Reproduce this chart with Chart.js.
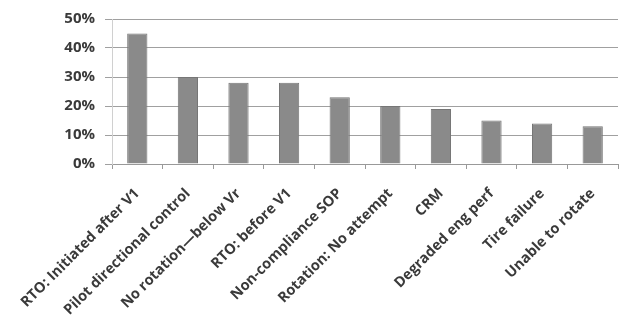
<!DOCTYPE html>
<html>
<head>
<meta charset="utf-8">
<script src="https://cdn.jsdelivr.net/npm/chart.js@4.4.0/dist/chart.umd.min.js"></script>
<style>
  html, body { margin: 0; padding: 0; background: #fff; }
  #wrap { width: 627px; height: 327px; }
</style>
</head>
<body>
<div id="wrap"><canvas id="barChart"></canvas></div>
<script>
const categories = [
  "RTO: Initiated after V1",
  "Pilot directional control",
  "No rotation\u2014below Vr",
  "RTO: before V1",
  "Non-compliance SOP",
  "Rotation: No attempt",
  "CRM",
  "Degraded eng perf",
  "Tire failure",
  "Unable to rotate"
];
const shares = [45, 30, 28, 28, 23, 20, 19, 15, 14, 13];
const yTicks = [0, 10, 20, 30, 40, 50];

window.addEventListener("DOMContentLoaded", () => {
  const ctx = document.getElementById("barChart").getContext("2d");

  new Chart(ctx, {
    type: "bar",
    data: {
      labels: categories,
      datasets: [{
        data: shares,
        backgroundColor: "#8a8a8a",
        borderColor: "#767676",
        borderWidth: 1,
        barPercentage: 0.8,
        categoryPercentage: 0.5
      }]
    },
    options: {
      responsive: true,
      maintainAspectRatio: false,
      animation: false,
      layout: { padding: { top: 15, right: 9, left: 0, bottom: 0 } },
      plugins: {
        legend: { display: false },
        tooltip: { enabled: false }
      },
      scales: {
        x: {
          afterFit: (axis) => { axis.height = 163; },
          grid: {
            display: true,
            drawOnChartArea: false,
            offset: true,
            tickLength: 5,
            color: "#999"
          },
          border: { color: "#999" },
          ticks: {
            minRotation: 45,
            maxRotation: 45,
            padding: 16,
            color: "#3a3a3a",
            font: { family: "Open Sans", size: 14.5, weight: "bold" }
          }
        },
        y: {
          min: 0,
          max: 50,
          afterFit: (axis) => { axis.width = 112; },
          afterBuildTicks: (axis) => { axis.ticks = yTicks.map(v => ({ value: v })); },
          grid: { color: "#a0a0a0", tickLength: 7 },
          border: { color: "#d0d0d0" },
          ticks: {
            padding: 10,
            color: "#3a3a3a",
            font: { family: "Open Sans", size: 15, weight: "bold" },
            callback: (v) => v + "%"
          }
        }
      }
    }
  });
});
</script>
</body>
</html>
